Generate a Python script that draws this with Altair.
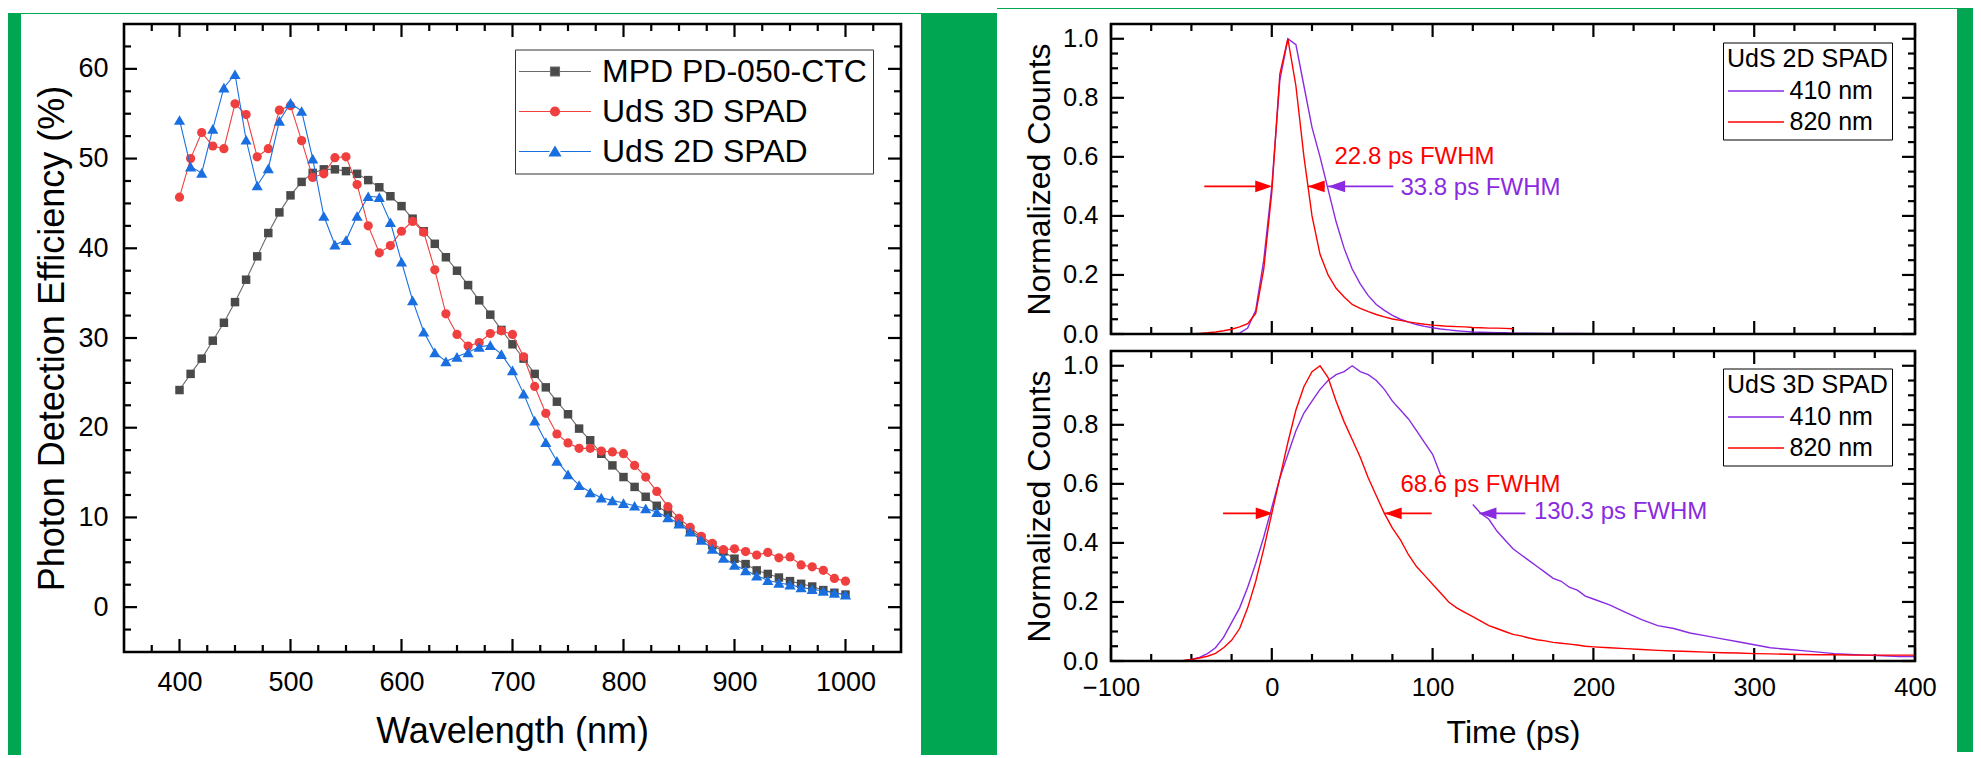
import altair as alt
import pandas as pd

# ---------------- colours & fonts ----------------
GREEN = "#00a651"
FONT = "Liberation Sans, Arial, Helvetica, sans-serif"

# ---------------- left panel data ----------------
wavelength_nm = list(range(400, 1001, 10))
pde_mpd = [24.2, 26.0, 27.7, 29.7, 31.7, 34.0, 36.5, 39.1, 41.7, 44.0,
           45.9, 47.4, 48.4, 48.8, 48.8, 48.6, 48.3, 47.6, 46.8, 45.8,
           44.7, 43.3, 41.9, 40.5, 39.0, 37.5, 35.9, 34.2, 32.6, 30.9,
           29.3, 27.7, 26.0, 24.5, 22.9, 21.5, 19.9, 18.6, 17.1, 15.8,
           14.5, 13.4, 12.3, 11.3, 10.5, 9.5, 8.6, 7.7, 6.9, 6.2,
           5.4, 4.8, 4.1, 3.7, 3.3, 2.9, 2.6, 2.3, 1.9, 1.6,
           1.4]
pde_uds3d = [45.7, 50.0, 52.9, 51.4, 51.1, 56.1, 54.9, 50.2, 51.1, 55.4,
             55.9, 52.0, 47.9, 48.3, 50.1, 50.2, 47.1, 42.5, 39.5, 40.3,
             41.9, 43.0, 41.8, 37.6, 32.7, 30.4, 29.1, 29.5, 30.5, 30.8,
             30.4, 27.9, 24.6, 21.6, 19.3, 18.3, 17.7, 17.7, 17.4, 17.3,
             17.1, 15.8, 14.5, 12.9, 11.2, 9.9, 8.9, 7.9, 7.1, 6.4,
             6.5, 6.2, 5.8, 6.1, 5.5, 5.6, 4.7, 4.5, 4.1, 3.2,
             2.9]
pde_uds2d = [54.3, 49.1, 48.4, 53.3, 57.9, 59.4, 52.1, 47.0, 48.9, 54.2,
             56.2, 55.3, 50.0, 43.6, 40.4, 40.9, 43.6, 45.8, 45.7, 42.9,
             38.5, 34.2, 30.7, 28.4, 27.4, 27.9, 28.4, 29.0, 29.2, 28.2,
             26.4, 23.8, 20.8, 18.4, 16.3, 14.8, 13.6, 12.8, 12.2, 11.9,
             11.6, 11.3, 11.0, 10.6, 10.0, 9.3, 8.4, 7.5, 6.5, 5.5,
             4.7, 4.1, 3.5, 3.0, 2.7, 2.5, 2.2, 2.0, 1.8, 1.6,
             1.4]
series_names = ["MPD PD-050-CTC", "UdS 3D SPAD", "UdS 2D SPAD"]
marker_colors = ["#4a4a4a", "#ef3f3f", "#1a6fe0"]
line_colors = ["#6a6a6a", "#ef3f3f", "#1a6fe0"]
marker_shapes = ["square", "circle", "triangle-up"]
marker_sizes = [72, 85, 125]
legend_paths = [
    "M-4,0H3M5,0H12M3,-1H5V1H3Z",
    "M-4,0H3M5,0H12M5,0A1,1,0,1,1,3,0A1,1,0,1,1,5,0Z",
    "M-4,0H2.8M5.2,0H12M4,-1.1L5.25,1H2.75Z",
]

left_x_major = [400, 500, 600, 700, 800, 900, 1000]
left_x_minor = [375, 425, 450, 475, 525, 550, 575, 625, 650, 675, 725, 750,
                775, 825, 850, 875, 925, 950, 975, 1025]
left_y_major = [0, 10, 20, 30, 40, 50, 60]
left_y_minor = [-2.5, 2.5, 5, 7.5, 12.5, 15, 17.5, 22.5, 25, 27.5, 32.5, 35,
                37.5, 42.5, 45, 47.5, 52.5, 55, 57.5, 62.5]

# ---------------- right panels data ----------------
t_top_820 = list(range(-100, 151, 5))
cnt_top_820 = [0] * 11 + [
    0.002, 0.004, 0.007, 0.011, 0.016, 0.024, 0.035, 0.07, 0.22,
    0.48, 0.88, 1.0, 0.84, 0.6, 0.4, 0.27, 0.2, 0.155, 0.125,
    0.1, 0.087, 0.076, 0.066, 0.058, 0.051, 0.046, 0.041, 0.037, 0.033,
    0.03, 0.028, 0.026, 0.025, 0.024, 0.022, 0.021, 0.02, 0.02, 0.019,
    0.018]
t_top_410 = list(range(-100, 151, 5)) + list(range(160, 321, 10))
cnt_top_410 = [0] * 16 + [
    0.003, 0.02, 0.08, 0.25,
    0.5, 0.86, 1.0, 0.98, 0.84, 0.7, 0.6, 0.49, 0.38, 0.29,
    0.22, 0.17, 0.13, 0.1, 0.08, 0.063, 0.05, 0.04, 0.032, 0.026,
    0.021, 0.017, 0.014, 0.011, 0.009, 0.007, 0.006, 0.005, 0.004, 0.004,
    0.003,
    0.003, 0.002, 0.002, 0.002, 0.001, 0.001, 0.001, 0.001, 0.001,
    0, 0, 0, 0, 0, 0, 0, 0]
t_bot_820 = list(range(-100, 201, 5)) + list(range(210, 401, 10))
cnt_bot_820 = [0] * 9 + [
    0.002, 0.005, 0.01, 0.016, 0.026, 0.045, 0.07, 0.11, 0.18, 0.27, 0.38,
    0.5, 0.62, 0.74, 0.85, 0.93, 0.98, 1.0, 0.96, 0.88, 0.81,
    0.75, 0.69, 0.62, 0.56, 0.5, 0.45, 0.41, 0.36, 0.32, 0.29,
    0.26, 0.23, 0.2, 0.18, 0.165, 0.15, 0.135, 0.12, 0.11, 0.1,
    0.09, 0.085, 0.078, 0.072, 0.068, 0.063, 0.06, 0.057, 0.054, 0.05,
    0.048,
    0.045, 0.042, 0.039, 0.036, 0.034, 0.032, 0.03, 0.028, 0.027, 0.025,
    0.024, 0.023, 0.022, 0.021, 0.021, 0.02, 0.02, 0.02, 0.02, 0.02]
t_bot_410 = list(range(-100, 201, 5)) + list(range(210, 401, 10))
cnt_bot_410 = [0] * 10 + [
    0.005, 0.012, 0.025, 0.045, 0.08, 0.13, 0.18, 0.25, 0.33, 0.42,
    0.52, 0.62, 0.7, 0.78, 0.84, 0.88, 0.92, 0.95, 0.97, 0.98,
    1.0, 0.98, 0.97, 0.95, 0.92, 0.88, 0.85, 0.82, 0.78, 0.74,
    0.7, 0.63, None, None, None, 0.53, 0.5, 0.48, 0.44, 0.41,
    0.38, 0.36, 0.34, 0.32, 0.3, 0.28, 0.27, 0.25, 0.24, 0.22,
    0.21,
    0.19, 0.165, 0.14, 0.12, 0.11, 0.095, 0.085, 0.075, 0.065, 0.055,
    0.045, 0.04, 0.035, 0.03, 0.025, 0.022, 0.02, 0.018, 0.015, 0.015]
wl_labels = ["410 nm", "820 nm"]
PURPLE = "#8a2be2"
RED = "#ff0000"

# annotations: text, x (ps), y, colour
notes_top = [("22.8 ps FWHM", 39, 0.60, RED), ("33.8 ps FWHM", 80, 0.494, PURPLE)]
notes_bot = [("68.6 ps FWHM", 80, 0.597, RED), ("130.3 ps FWHM", 163, 0.503, PURPLE)]
# arrows: shaft start, shaft end, head tip, y, colour, pointing right?
arrows_top = [(-42, -5, 0.3, 0.5, RED, True),
              (22.3, 33, 22.3, 0.5, RED, False),
              (35, 75.6, 35, 0.5, PURPLE, False)]
arrows_bot = [(-30.3, -5, 0.6, 0.5, RED, True),
              (70.2, 99.4, 70.2, 0.5, RED, False),
              (129.1, 157.7, 129.1, 0.5, PURPLE, False)]
HEAD_RIGHT = "M1,0L-1,-0.7L-1,0.7Z"
HEAD_LEFT = "M-1,0L1,-0.7L1,0.7Z"
LEG_LINE = "M-1.23,0H4.77"

right_x_major = [-100, 0, 100, 200, 300, 400]
right_x_minor = [-75, -50, -25, 25, 50, 75, 125, 150, 175, 225, 250, 275, 325, 350, 375]
right_y_major = [0, 0.2, 0.4, 0.6, 0.8, 1.0]
right_y_minor = [0.05, 0.1, 0.15, 0.25, 0.3, 0.35, 0.45, 0.5, 0.55, 0.65, 0.7,
                 0.75, 0.85, 0.9, 0.95]

one = pd.DataFrame({"k": [0]})


def box_layers(W, H, xenc, yenc, xmaj, xmin, ymaj, ymin, maj=13, mnr=7, sw=2.2):
    out = []
    xf = xenc.shorthand.split(":")[0]
    yf = yenc.shorthand.split(":")[0]
    for vals, ln in ((xmaj, maj), (xmin, mnr)):
        d = pd.DataFrame({xf: vals})
        out.append(alt.Chart(d).mark_rule(color="black", strokeWidth=sw).encode(
            x=xenc, y=alt.value(H), y2=alt.value(H - ln)))
        out.append(alt.Chart(d).mark_rule(color="black", strokeWidth=sw).encode(
            x=xenc, y=alt.value(0), y2=alt.value(ln)))
    for vals, ln in ((ymaj, maj), (ymin, mnr)):
        d = pd.DataFrame({yf: vals})
        out.append(alt.Chart(d).mark_rule(color="black", strokeWidth=sw).encode(
            y=yenc, x=alt.value(0), x2=alt.value(ln)))
        out.append(alt.Chart(d).mark_rule(color="black", strokeWidth=sw).encode(
            y=yenc, x=alt.value(W), x2=alt.value(W - ln)))
    return out


def frame(W, H, sw=2.6):
    return alt.Chart(one).mark_rect(fillOpacity=0, stroke="black", strokeWidth=sw).encode(
        x=alt.value(0), x2=alt.value(W), y=alt.value(0), y2=alt.value(H))


def patch(x1, x2, y1, y2, col=GREEN):
    return alt.Chart(one).mark_rect(color=col).encode(
        x=alt.value(x1), x2=alt.value(x2), y=alt.value(y1), y2=alt.value(y2))


# ================= LEFT PANEL =================
LW, LH = 777, 628
lxs = alt.Scale(domain=[350, 1050], nice=False, zero=False)
lys = alt.Scale(domain=[-5, 65], nice=False, zero=False)
lx_axis = alt.Axis(values=left_x_major, format="d", ticks=False, tickSize=0, domain=False,
                   grid=False, labelFont=FONT, labelFontSize=27, labelColor="black",
                   labelPadding=17, labelFlush=False, labelOverlap=False,
                   title="Wavelength (nm)", titleFont=FONT, titleFontSize=36,
                   titleFontWeight="normal", titleColor="black", titleX=388, titleY=90,
                   titleAlign="center", titleBaseline="alphabetic", zindex=1)
ly_axis = alt.Axis(values=left_y_major, format="d", ticks=False, tickSize=0, domain=False,
                   grid=False, labelFont=FONT, labelFontSize=27, labelColor="black",
                   labelPadding=16, labelOverlap=False, labelFlush=False,
                   title="Photon Detection Efficiency (%)", titleFont=FONT, titleFontSize=36,
                   titleFontWeight="normal", titleColor="black", titleX=-61, titleY=LH / 2,
                   titleAngle=270, titleAlign="center", titleBaseline="alphabetic", zindex=1)
LX = alt.X("wl:Q", scale=lxs, axis=lx_axis)
LY = alt.Y("pde:Q", scale=lys, axis=ly_axis)

# green page border: left strip, the whole gap between the panels, 1px top strip
left_layers = [patch(-116, -103, -11, 731), patch(797, 873, -11, 731),
               patch(-116, 873, -11, -10)]
left_layers += box_layers(LW, LH, LX, LY, left_x_major, left_x_minor, left_y_major, left_y_minor)
for name, vals, mc, lc, shp, sz in zip(series_names, [pde_mpd, pde_uds3d, pde_uds2d],
                                       marker_colors, line_colors, marker_shapes, marker_sizes):
    d = pd.DataFrame({"wl": wavelength_nm, "pde": vals})
    left_layers.append(alt.Chart(d).mark_line(color=lc, strokeWidth=1.1).encode(x=LX, y=LY))
    left_layers.append(alt.Chart(d).mark_point(filled=True, opacity=1, color=mc, shape=shp,
                                               size=sz).encode(x=LX, y=LY))
left_layers.append(frame(LW, LH))
leg_df = pd.DataFrame({"series": series_names, "wl": [2000] * 3, "pde": [30] * 3})
left_leg = alt.Legend(orient="none", legendX=391, legendY=25.5, title=None,
                      labelFont=FONT, labelFontSize=32, labelColor="black", labelOffset=49,
                      labelLimit=600, symbolSize=81, symbolStrokeWidth=1.1, rowPadding=8,
                      padding=6, strokeColor="#333333", fillColor="white", zindex=2)
left_layers.append(alt.Chart(leg_df).mark_point(filled=True, clip=True, opacity=1).encode(
    x=LX, y=LY,
    fill=alt.Fill("series:N", scale=alt.Scale(domain=series_names, range=marker_colors),
                  legend=left_leg, sort=series_names),
    stroke=alt.Stroke("series:N", scale=alt.Scale(domain=series_names, range=line_colors),
                      legend=left_leg, sort=series_names),
    shape=alt.Shape("series:N", scale=alt.Scale(domain=series_names, range=legend_paths),
                    legend=left_leg, sort=series_names)))
left = alt.layer(*left_layers).properties(width=LW, height=LH)


# ================= RIGHT PANELS =================
RW, RH = 804, 310
rxs = alt.Scale(domain=[-100, 400], nice=False, zero=False)
rys = alt.Scale(domain=[0, 1.05], nice=False, zero=False)


def right_panel(t410, c410, t820, c820, notes, arrows, legend_title, show_x, patches, leg_y):
    yax = alt.Axis(values=right_y_major, format=".1f", ticks=False, tickSize=0, domain=False,
                   grid=False, labelFont=FONT, labelFontSize=25.5, labelColor="black",
                   labelPadding=13, labelOverlap=False, labelFlush=False,
                   title="Normalized Counts", titleFont=FONT, titleFontSize=32,
                   titleFontWeight="normal", titleColor="black", titleX=-62, titleY=RH / 2,
                   titleAngle=270, titleAlign="center", titleBaseline="alphabetic", zindex=1)
    if show_x:
        xax = alt.Axis(values=right_x_major, format="d", ticks=False, tickSize=0, domain=False,
                       grid=False, labelFont=FONT, labelFontSize=25.5, labelColor="black",
                       labelPadding=14, labelFlush=False, labelOverlap=False,
                       title="Time (ps)", titleFont=FONT, titleFontSize=32,
                       titleFontWeight="normal", titleColor="black", titleX=RW / 2, titleY=81,
                       titleAlign="center", titleBaseline="alphabetic", zindex=1)
    else:
        xax = None
    RX = alt.X("t:Q", scale=rxs, axis=xax)
    RY = alt.Y("c:Q", scale=rys, axis=yax)
    layers = [patch(*p) for p in patches]
    layers += box_layers(RW, RH, RX, RY, right_x_major, right_x_minor,
                         right_y_major, right_y_minor)
    d = pd.concat([
        pd.DataFrame({"t": t410, "c": c410, "wl": wl_labels[0]}),
        pd.DataFrame({"t": t820, "c": c820, "wl": wl_labels[1]}),
    ])
    leg = alt.Legend(orient="none", legendX=612, legendY=leg_y, title=legend_title,
                     titleFont=FONT, titleFontSize=25, titleFontWeight=400,
                     titleColor="black", titlePadding=7,
                     labelFont=FONT, labelFontSize=25, labelColor="black", labelOffset=37.5,
                     symbolType=LEG_LINE, symbolSize=348, symbolStrokeWidth=1.6,
                     rowPadding=5, padding=4, strokeColor="black", fillColor="white", zindex=2)
    layers.append(alt.Chart(d).mark_line(strokeWidth=1.4).encode(
        x=RX, y=RY,
        color=alt.Color("wl:N", scale=alt.Scale(domain=wl_labels, range=[PURPLE, RED]),
                        legend=leg, sort=wl_labels),
        order=alt.Order("t:Q")))
    for x1, x2, tip, yv, col, right in arrows:
        da = pd.DataFrame({"t": [x1], "t2": [x2], "c": [yv]})
        layers.append(alt.Chart(da).mark_rule(color=col, strokeWidth=1.6).encode(
            x=RX, x2="t2:Q", y=RY))
        # head centre sits 8.5 px (5.3 ps) behind the tip
        dh = pd.DataFrame({"t": [tip - 5.3 if right else tip + 5.3], "c": [yv]})
        layers.append(alt.Chart(dh).mark_point(
            filled=True, opacity=1, color=col, size=289,
            shape=HEAD_RIGHT if right else HEAD_LEFT).encode(x=RX, y=RY))
    for txt, xv, yv, col in notes:
        dn = pd.DataFrame({"t": [xv], "c": [yv], "label": [txt]})
        layers.append(alt.Chart(dn).mark_text(align="left", baseline="middle", font=FONT,
                                              fontSize=24, color=col).encode(
            x=RX, y=RY, text="label:N"))
    layers.append(frame(RW, RH))
    return alt.layer(*layers).properties(width=RW, height=RH)


top = right_panel(t_top_410, cnt_top_410, t_top_820, cnt_top_820, notes_top, arrows_top,
                  "UdS 2D SPAD", False,
                  [(846, 862, -16, 324), (-114, 862, -16, -15),
                   (-114, -113, -15, 324, "white")], 18.5)
bottom = right_panel(t_bot_410, cnt_bot_410, t_bot_820, cnt_bot_820, notes_bot, arrows_bot,
                     "UdS 3D SPAD", True,
                     [(846, 862, -3, 401), (-114, -113, -3, 401, "white")], 17.5)

right = alt.vconcat(top, bottom, spacing=0).resolve_scale(color="independent")

chart = alt.hconcat(left, right, spacing=0).resolve_scale(
    color="independent", fill="independent", stroke="independent", shape="independent"
).configure(
    background="white", padding=0
).configure_view(stroke=None)

chart.save("out.html", embed_options={"renderer": "svg", "actions": False})
